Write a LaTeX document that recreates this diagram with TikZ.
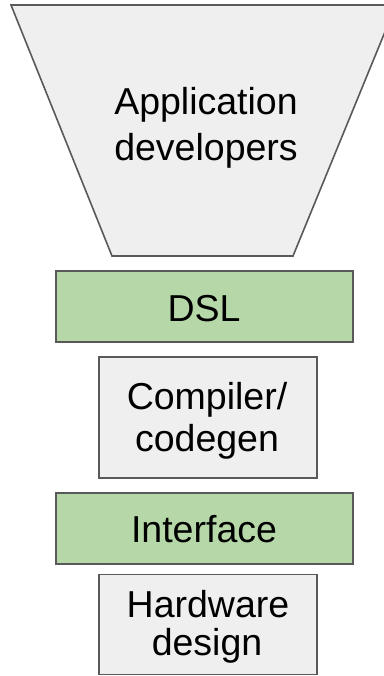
\documentclass[tikz,border=0pt]{standalone}
\usepackage{fontspec}
\setmainfont{Liberation Sans}
\definecolor{edgegrey}{HTML}{595959}
\definecolor{layergreen}{HTML}{B6D7A8}
\definecolor{layergrey}{HTML}{EFEFEF}
\tikzset{
  layerbox/.style={draw=edgegrey, line width=1.6pt, inner sep=0pt},
  greenlayer/.style={layerbox, fill=layergreen},
  greylayer/.style={layerbox, fill=layergrey},
  label/.style={anchor=base, inner sep=0pt, font=\fontsize{37.5}{45}\selectfont}
}
\begin{document}
\begin{tikzpicture}[x=1pt, y=-1pt]
  \useasboundingbox (0,0) rectangle (383,676);

  % funnel of application developers (cut off at the right edge)
  \draw[draw=edgegrey, fill=layergrey, line width=1.6pt, line join=miter]
    (11,5) -- (396,5) -- (293,256) -- (112,256) -- cycle;
  \node[label] (app1) at (206,115) {Application};
  \node[label] (app2) at (206,161) {developers};

  % DSL layer
  \node[greenlayer, minimum width=297pt, minimum height=71pt] (dsl) at (204.5,306.5) {};
  \node[label] (dsltext) at (204,321.7) {DSL};

  % compiler / code generation
  \node[greylayer, minimum width=218pt, minimum height=121pt] (comp) at (208,417.5) {};
  \node[label] (comp1) at (207,409) {Compiler/};
  \node[label] (comp2) at (207,451.7) {codegen};

  % interface layer
  \node[greenlayer, minimum width=297pt, minimum height=71pt] (iface) at (204.5,528.5) {};
  \node[label] (ifacetext) at (204,542.3) {Interface};

  % hardware design
  \node[greylayer, minimum width=218pt, minimum height=100pt] (hw) at (208,624.3) {};
  \node[label] (hw1) at (208,617.7) {Hardware};
  \node[label] (hw2) at (207,655.5) {design};
\end{tikzpicture}
\end{document}
